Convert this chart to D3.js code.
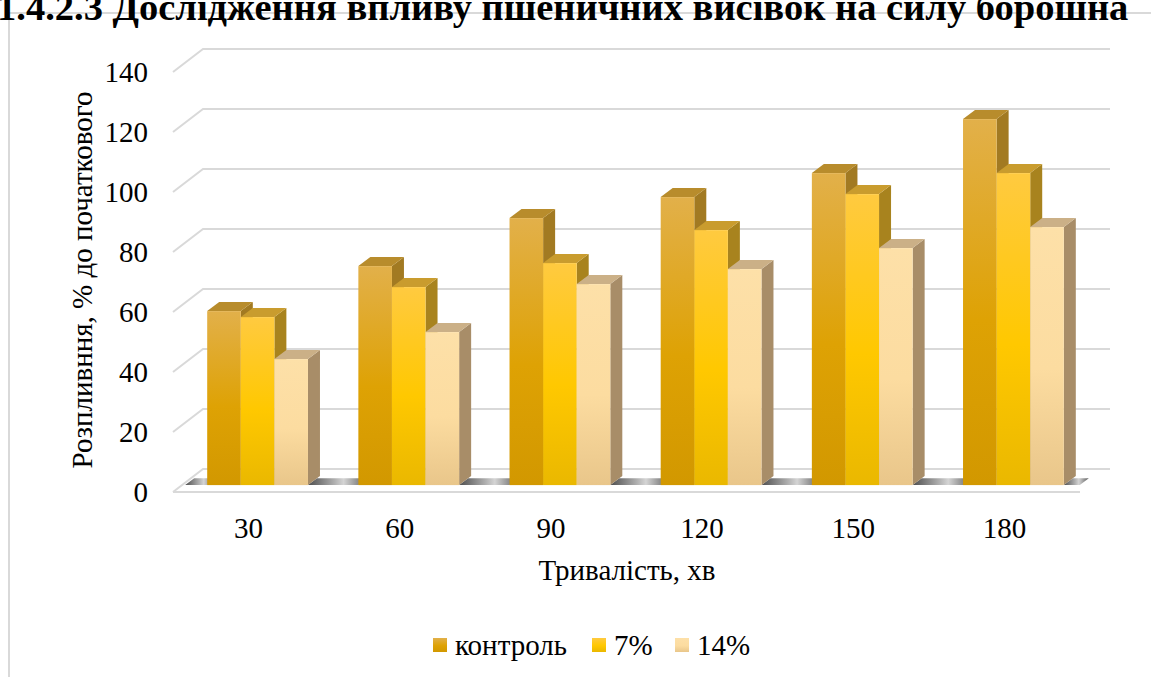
<!DOCTYPE html>
<html>
<head>
<meta charset="utf-8">
<script src="https://cdn.jsdelivr.net/npm/d3@7"></script>
<style>
  html, body { margin: 0; padding: 0; background: #fff; overflow: hidden; }
</style>
</head>
<body>
<svg id="chart" width="1151" height="677" font-family="'Liberation Serif', 'Times New Roman', 'DejaVu Serif', serif"></svg>
<script>
const categories = ["30", "60", "90", "120", "150", "180"];
const seriesNames = ["контроль", "7%", "14%"];
const control = [58, 73, 89, 96, 104, 122];
const pct7 = [56, 66, 74, 85, 97, 104];
const pct14 = [42, 51, 67, 72, 79, 86];
const yTicks = [0, 20, 40, 60, 80, 100, 120, 140];

const seriesValues = [control, pct7, pct14];

// colours per series: front gradient top/mid/bottom, side, top
const palette = [
  { top: "#e2b04a", mid: "#dea204", bot: "#d29800", side: "#a27a22", lid: "#b88c2c" },
  { top: "#ffca40", mid: "#ffc800", bot: "#eab800", side: "#a8831e", lid: "#c99c2e" },
  { top: "#fde0a8", mid: "#fcdca0", bot: "#e9c68a", side: "#a88d68", lid: "#cbb087" }
];

const fs = 29;

const svg = d3.select("#chart");
const defs = svg.append("defs");

// full depth of the 3D box
const depthX = 30, depthY = -23;
const t0 = 0.3, tBar = 0.4;

const x0 = d3.scaleBand().domain(categories).range([173, 1080]).paddingInner(1 / 3).paddingOuter(1 / 6);
const x1 = d3.scaleBand().domain(seriesNames).range([0, x0.bandwidth()]);
const y = d3.scaleLinear().domain([0, 140]).range([492, 72]);

// frame
svg.append("rect")
  .attr("x", 9).attr("y", 13).attr("width", 1160).attr("height", 700)
  .attr("fill", "none").attr("stroke", "#d9d9d9").attr("stroke-width", 2);

// title (cut at the top of the picture, like the source)
svg.append("text")
  .attr("x", -3).attr("y", 20)
  .attr("font-size", 38.5).attr("font-weight", "bold")
  .text("1.4.2.3 Дослідження впливу пшеничних висівок на силу борошна");

// gradients
palette.forEach((p, i) => {
  const g = defs.append("linearGradient").attr("id", "front" + i)
    .attr("x1", 0).attr("y1", 0).attr("x2", 0).attr("y2", 1);
  g.append("stop").attr("offset", "0%").attr("stop-color", p.top);
  g.append("stop").attr("offset", "55%").attr("stop-color", p.mid);
  g.append("stop").attr("offset", "100%").attr("stop-color", p.bot);
});
const sh = defs.append("linearGradient").attr("id", "shadow")
  .attr("x1", 0).attr("y1", 0).attr("x2", 1).attr("y2", 0);
sh.append("stop").attr("offset", "0%").attr("stop-color", "#3a3a3a");
sh.append("stop").attr("offset", "45%").attr("stop-color", "#a8a8a8");
sh.append("stop").attr("offset", "60%").attr("stop-color", "#d0d0d0");
sh.append("stop").attr("offset", "100%").attr("stop-color", "#4a4a4a");

// gridlines (front-left diagonal + back wall)
const grid = svg.append("g");
yTicks.forEach(v => {
  const fy = y(v);
  grid.append("path")
    .attr("d", `M${173},${fy}L${173 + depthX},${fy + depthY}L${1080 + depthX},${fy + depthY}`)
    .attr("fill", "none").attr("stroke", "#d9d9d9").attr("stroke-width", 2);
});
// floor front edge
grid.append("line")
  .attr("x1", 173).attr("x2", 1080).attr("y1", y(0)).attr("y2", y(0))
  .attr("stroke", "#d9d9d9").attr("stroke-width", 2);

// shadow strip on the floor, one piece for each gap between groups
const bdx = depthX * tBar, bdy = depthY * tBar;
const sb = y(0) + depthY * t0;          // strip bottom
const st = y(0) + depthY * 0.6;         // strip top
const sdx = depthX * 0.3;
const edges = categories.map(c => [x0(c) + depthX * t0, x0(c) + x0.bandwidth() + depthX * t0]);
const gaps = [];
gaps.push([edges[0][0] - 22, edges[0][0]]);
for (let i = 0; i < edges.length - 1; i++) gaps.push([edges[i][1], edges[i + 1][0]]);
gaps.push([edges[edges.length - 1][1], edges[edges.length - 1][1] + 16]);
svg.append("g").selectAll("path")
  .data(gaps)
  .enter()
  .append("path")
  .attr("d", d => `M${d[0]},${sb}L${d[1]},${sb}L${d[1] + sdx},${st}L${d[0] + sdx},${st}Z`)
  .attr("fill", "url(#shadow)")
  .attr("opacity", 0.9);

// bars
const bars = [];
categories.forEach((c, ci) => {
  seriesNames.forEach((s, si) => {
    bars.push({ c, s, si, v: seriesValues[si][ci] });
  });
});

const bw = x1.bandwidth();
const barSel = svg.append("g").selectAll("g.bar")
  .data(bars)
  .enter()
  .append("g")
  .attr("class", "bar");

barSel.each(function(d) {
  const g = d3.select(this);
  const xl = x0(d.c) + x1(d.s) + depthX * t0;
  const yb = y(0) + depthY * t0;
  const yt = y(d.v) + depthY * t0;
  const p = palette[d.si];
  // side face
  g.append("path")
    .attr("d", `M${xl + bw},${yb}L${xl + bw + bdx},${yb + bdy}L${xl + bw + bdx},${yt + bdy}L${xl + bw},${yt}Z`)
    .attr("fill", p.side);
  // top face
  g.append("path")
    .attr("d", `M${xl},${yt}L${xl + bdx},${yt + bdy}L${xl + bw + bdx},${yt + bdy}L${xl + bw},${yt}Z`)
    .attr("fill", p.lid);
  // front face
  g.append("rect")
    .attr("x", xl).attr("y", yt).attr("width", bw).attr("height", yb - yt)
    .attr("fill", `url(#front${d.si})`);
});

// y tick labels
svg.append("g").selectAll("text")
  .data(yTicks)
  .enter()
  .append("text")
  .attr("x", 148)
  .attr("y", d => y(d))
  .attr("dy", "0.35em")
  .attr("text-anchor", "end")
  .attr("font-size", fs)
  .text(d => d);

// category labels
svg.append("g").selectAll("text")
  .data(categories)
  .enter()
  .append("text")
  .attr("x", d => x0(d) + x0.bandwidth() / 2)
  .attr("y", 538)
  .attr("text-anchor", "middle")
  .attr("font-size", fs)
  .text(d => d);

// axis titles
svg.append("text")
  .attr("x", 627).attr("y", 580)
  .attr("text-anchor", "middle")
  .attr("font-size", fs)
  .text("Тривалість, хв");

svg.append("text")
  .attr("transform", "translate(92,280) rotate(-90)")
  .attr("text-anchor", "middle")
  .attr("font-size", fs)
  .text("Розпливння, % до початкового");

// legend
const legendX = [433, 592, 675];
const legend = svg.append("g").selectAll("g")
  .data(seriesNames)
  .enter()
  .append("g")
  .attr("transform", (d, i) => `translate(${legendX[i]},638)`);
legend.append("rect")
  .attr("width", 14).attr("height", 14)
  .attr("fill", (d, i) => `url(#front${i})`);
legend.append("text")
  .attr("x", 22).attr("y", 7)
  .attr("dy", "0.35em")
  .attr("font-size", fs)
  .text(d => d);
</script>
</body>
</html>
